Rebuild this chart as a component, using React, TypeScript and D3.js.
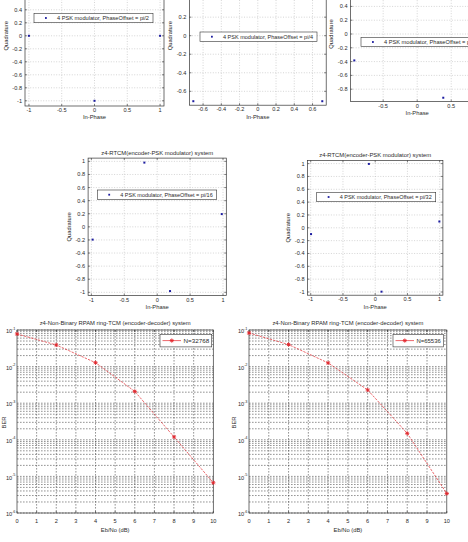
import React from 'react'
import * as d3 from 'd3'

// 4-PSK constellations, one entry per phase offset
const phaseOffsets = ['pi/2', 'pi/4', 'pi/8', 'pi/16', 'pi/32']
const inPhase = [
  [0, -1, 0, 1],
  [0.707, -0.707, -0.707, 0.707],
  [0.924, -0.383, -0.924, 0.383],
  [0.981, -0.195, -0.981, 0.195],
  [0.995, -0.098, -0.995, 0.098],
]
const quadrature = [
  [1, 0, -1, 0],
  [0.707, 0.707, -0.707, -0.707],
  [0.383, 0.924, -0.383, -0.924],
  [0.195, 0.981, -0.195, -0.981],
  [0.098, 0.995, -0.098, -0.995],
]
const iqTicksX = [
  [-1, -0.5, 0, 0.5, 1],
  [-0.6, -0.4, -0.2, 0, 0.2, 0.4, 0.6],
  [-0.5, 0, 0.5],
  [-1, -0.5, 0, 0.5, 1],
  [-1, -0.5, 0, 0.5, 1],
]
const iqTicksY = [
  [-1, -0.8, -0.6, -0.4, -0.2, 0, 0.2, 0.4, 0.6, 0.8, 1],
  [-0.6, -0.4, -0.2, 0, 0.2, 0.4, 0.6],
  [-0.8, -0.6, -0.4, -0.2, 0, 0.2, 0.4, 0.6, 0.8],
  [-1, -0.8, -0.6, -0.4, -0.2, 0, 0.2, 0.4, 0.6, 0.8, 1],
  [-1, -0.8, -0.6, -0.4, -0.2, 0, 0.2, 0.4, 0.6, 0.8, 1],
]
const iqTitle = 'z4-RTCM(encoder-PSK modulator) system'

// bit error rate curves
const ebNo = [0, 2, 4, 6, 8, 10]
const berSeries = [
  { name: 'N=32768', values: [0.078, 0.039, 0.0128, 0.0021, 1.2e-4, 6.7e-6] },
  { name: 'N=65536', values: [0.083, 0.04, 0.0126, 0.0023, 1.5e-4, 3.4e-6] },
]
const ebNoTicks = [0, 1, 2, 3, 4, 5, 6, 7, 8, 9, 10]
const berExponents = [-1, -2, -3, -4, -5, -6]
const berTitle = 'z4-Non-Binary RPAM ring-TCM (encoder-decoder) system'

// axes boxes in page pixels (top row runs past the upper edge of the sheet)
const iqLayout = [
  { x0: 25, x1: 164, y0: -34.4, y1: 106, xd: 1.06, yd: 1.08, leg: [34, 13.3, 119], title: false },
  { x0: 189.4, x1: 326.2, y0: -33.8, y1: 105.2, xd: 0.75, yd: 0.75, leg: [200, 32, 117], title: false },
  { x0: 350.5, x1: 483.9, y0: -33.6, y1: 101.6, xd: 0.98, yd: 0.98, leg: [361, 37.3, 119], title: false },
  { x0: 88.1, x1: 226.3, y0: 158.1, y1: 295.6, xd: 1.05, yd: 1.05, leg: [97.3, 190, 119.4], title: true },
  { x0: 307.5, x1: 442.9, y0: 160.4, y1: 295.2, xd: 1.05, yd: 1.05, leg: [316.7, 192.3, 119], title: true },
]
const berLayout = [
  { x0: 17, x1: 213.3, y0: 330, y1: 513, leg: [160, 334.3, 51.7], ylabelX: 4 },
  { x0: 249, x1: 446.8, y0: 330, y1: 513, leg: [393, 334.3, 50.3], ylabelX: 234 },
]

const font = 'Liberation Sans, Arial, sans-serif'
const ink = '#2a2a2a'

function IQPanel({ idx }: { idx: number }) {
  const p = iqLayout[idx]
  const x = d3.scaleLinear().domain([-p.xd, p.xd]).range([p.x0, p.x1])
  const y = d3.scaleLinear().domain([-p.yd, p.yd]).range([p.y1, p.y0])
  const pts = d3.zip(inPhase[idx], quadrature[idx])
  const [lx, ly, lw] = p.leg
  const lh = 9.4
  const cx = (p.x0 + p.x1) / 2
  const cy = (p.y0 + p.y1) / 2
  // labels above the sheet are not drawn
  const shownY = iqTicksY[idx].filter((t) => y(t) > 2)
  return (
    <g fontFamily={font} fill={ink}>
      <rect x={p.x0} y={p.y0} width={p.x1 - p.x0} height={p.y1 - p.y0} fill="#fff" />
      {/* dotted grid */}
      <g stroke="#b8b8b8" strokeWidth={0.6} strokeDasharray="1,1.6">
        {iqTicksX[idx].map((t) => (
          <line key={'gx' + t} x1={x(t)} x2={x(t)} y1={p.y0} y2={p.y1} />
        ))}
        {iqTicksY[idx].map((t) => (
          <line key={'gy' + t} x1={p.x0} x2={p.x1} y1={y(t)} y2={y(t)} />
        ))}
      </g>
      {/* inner ticks on all sides */}
      <g stroke="#333" strokeWidth={0.6}>
        {iqTicksX[idx].map((t) => (
          <g key={'tx' + t}>
            <line x1={x(t)} x2={x(t)} y1={p.y1} y2={p.y1 - 2} />
            <line x1={x(t)} x2={x(t)} y1={p.y0} y2={p.y0 + 2} />
          </g>
        ))}
        {iqTicksY[idx].map((t) => (
          <g key={'ty' + t}>
            <line x1={p.x0} x2={p.x0 + 2} y1={y(t)} y2={y(t)} />
            <line x1={p.x1} x2={p.x1 - 2} y1={y(t)} y2={y(t)} />
          </g>
        ))}
      </g>
      <rect x={p.x0} y={p.y0} width={p.x1 - p.x0} height={p.y1 - p.y0} fill="none" stroke="#333" strokeWidth={0.7} />
      {pts.map(([a, b], k) => (
        <rect key={k} x={x(a) - 1} y={y(b) - 1} width={2} height={2} fill="#1c1ca0" />
      ))}
      {/* tick labels */}
      <g fontSize={5.6}>
        {iqTicksX[idx].map((t) => (
          <text key={'lx' + t} x={x(t)} y={p.y1 + 4.2} textAnchor="middle" dominantBaseline="central">
            {String(t)}
          </text>
        ))}
        {shownY.map((t) => (
          <text key={'ly' + t} x={p.x0 - 3} y={y(t)} textAnchor="end" dominantBaseline="central">
            {String(t)}
          </text>
        ))}
      </g>
      <text x={cx} y={p.y1 + 11.3} fontSize={5.8} textAnchor="middle" dominantBaseline="central">
        In-Phase
      </text>
      <text
        transform={`translate(${p.x0 - 19.5},${cy}) rotate(-90)`}
        fontSize={5.8}
        textAnchor="middle"
        dominantBaseline="central"
      >
        Quadrature
      </text>
      {p.title && (
        <text x={cx} y={p.y0 - 5} fontSize={5.8} textAnchor="middle" dominantBaseline="central" textLength={112} lengthAdjust="spacingAndGlyphs">
          {iqTitle}
        </text>
      )}
      {/* legend */}
      <rect x={lx} y={ly} width={lw} height={lh} fill="#fff" stroke="#333" strokeWidth={0.6} />
      <rect x={lx + 11} y={ly + lh / 2 - 0.9} width={1.8} height={1.8} fill="#1c1ca0" />
      <text x={lx + 23} y={ly + lh / 2} fontSize={5.8} dominantBaseline="central" textLength={lw - 27} lengthAdjust="spacingAndGlyphs">
        {`4 PSK modulator, PhaseOffset = ${phaseOffsets[idx]}`}
      </text>
    </g>
  )
}

function Asterisk({ cx, cy, r }: { cx: number; cy: number; r: number }) {
  const d = r * 0.72
  return (
    <g stroke="#e3262c" strokeWidth={0.9}>
      <line x1={cx - r} x2={cx + r} y1={cy} y2={cy} />
      <line x1={cx} x2={cx} y1={cy - r} y2={cy + r} />
      <line x1={cx - d} x2={cx + d} y1={cy - d} y2={cy + d} />
      <line x1={cx - d} x2={cx + d} y1={cy + d} y2={cy - d} />
    </g>
  )
}

function BerPanel({ idx }: { idx: number }) {
  const p = berLayout[idx]
  const s = berSeries[idx]
  const x = d3.scaleLinear().domain([0, 10]).range([p.x0, p.x1])
  const y = d3.scaleLog().domain([1e-6, 1e-1]).range([p.y1, p.y0])
  // log grid: 1..9 in every decade
  const minor: number[] = []
  for (let e = -6; e < -1; e++) for (let m = 1; m <= 9; m++) minor.push(m * Math.pow(10, e))
  minor.push(0.1)
  const line = d3
    .line<number>()
    .x((_d, i) => x(ebNo[i]))
    .y((d) => y(d))
  const [lx, ly, lw] = p.leg
  const lh = 12.6
  const cx = (p.x0 + p.x1) / 2
  const cy = (p.y0 + p.y1) / 2
  return (
    <g fontFamily={font} fill={ink}>
      <rect x={p.x0} y={p.y0} width={p.x1 - p.x0} height={p.y1 - p.y0} fill="#fff" />
      <g stroke="#3a3a3a" strokeWidth={0.55} strokeDasharray="1.6,1.4">
        {ebNoTicks.slice(1, -1).map((t) => (
          <line key={'gx' + t} x1={x(t)} x2={x(t)} y1={p.y0} y2={p.y1} />
        ))}
        {minor.map((v, k) => (
          <line key={'gy' + k} x1={p.x0} x2={p.x1} y1={y(v)} y2={y(v)} />
        ))}
      </g>
      <g stroke="#333" strokeWidth={0.6}>
        {ebNoTicks.map((t) => (
          <g key={'tx' + t}>
            <line x1={x(t)} x2={x(t)} y1={p.y1} y2={p.y1 - 2} />
            <line x1={x(t)} x2={x(t)} y1={p.y0} y2={p.y0 + 2} />
          </g>
        ))}
      </g>
      <rect x={p.x0} y={p.y0} width={p.x1 - p.x0} height={p.y1 - p.y0} fill="none" stroke="#333" strokeWidth={0.7} />
      <path d={line(s.values) ?? ''} fill="none" stroke="#e3262c" strokeWidth={0.7} strokeDasharray="2.4,1.2" />
      {s.values.map((v, k) => (
        <Asterisk key={k} cx={x(ebNo[k])} cy={y(v)} r={2.1} />
      ))}
      <g fontSize={5.6}>
        {ebNoTicks.map((t) => (
          <text key={'lx' + t} x={x(t)} y={p.y1 + 7.6} textAnchor="middle" dominantBaseline="central">
            {String(t)}
          </text>
        ))}
        {berExponents.map((e) => (
          <text key={'ly' + e} x={p.x0 - 1.5} y={y(Math.pow(10, e)) + 1.2} textAnchor="end" dominantBaseline="central">
            10
            <tspan fontSize={3.8} dy={-2.6}>
              {String(e)}
            </tspan>
          </text>
        ))}
      </g>
      <text x={cx} y={p.y1 + 17} fontSize={5.8} textAnchor="middle" dominantBaseline="central">
        Eb/No (dB)
      </text>
      <text
        transform={`translate(${p.ylabelX},${cy + 1}) rotate(-90)`}
        fontSize={5.8}
        textAnchor="middle"
        dominantBaseline="central"
      >
        BER
      </text>
      <text x={cx} y={p.y0 - 6.7} fontSize={5.8} textAnchor="middle" dominantBaseline="central" textLength={151} lengthAdjust="spacingAndGlyphs">
        {berTitle}
      </text>
      <rect x={lx} y={ly} width={lw} height={lh} fill="#fff" stroke="#333" strokeWidth={0.6} />
      <line x1={lx + 2.5} x2={lx + 21} y1={ly + lh / 2} y2={ly + lh / 2} stroke="#e3262c" strokeWidth={0.7} />
      <Asterisk cx={lx + 11.8} cy={ly + lh / 2} r={2.1} />
      <text x={lx + 23.5} y={ly + lh / 2} fontSize={5.8} dominantBaseline="central" textLength={lw - 26} lengthAdjust="spacingAndGlyphs">
        {s.name}
      </text>
    </g>
  )
}

export default function App() {
  return (
    <svg
      width={468}
      height={542}
      viewBox="0 0 468 542"
      style={{ position: 'absolute', left: 0, top: 0, background: '#fff' }}
    >
      {iqLayout.map((_p, i) => (
        <IQPanel key={i} idx={i} />
      ))}
      {berLayout.map((_p, i) => (
        <BerPanel key={i} idx={i} />
      ))}
    </svg>
  )
}
